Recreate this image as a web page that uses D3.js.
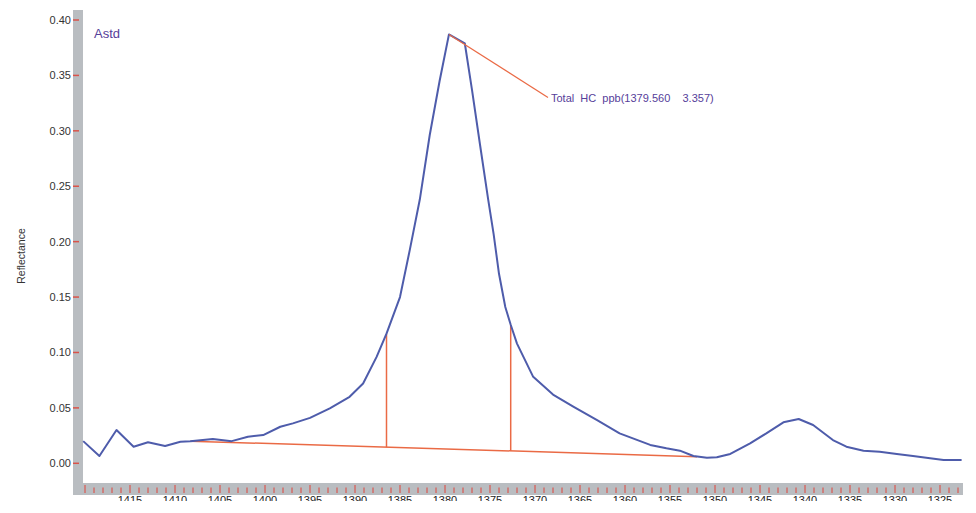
<!DOCTYPE html>
<html><head><meta charset="utf-8">
<script src="https://cdn.jsdelivr.net/npm/d3@7"></script>
<style>body{margin:0;background:#fff}svg{display:block}text{font-family:"Liberation Sans",Arial,sans-serif}</style>
</head><body>
<svg id="c" width="976" height="513"></svg>
<script>
// Spectrum (wavenumber, reflectance)
const wavenumbers = [1420.2,1418.4,1416.5,1414.6,1413.0,1411.1,1409.4,1408.3,1405.8,1403.7,1401.9,1400.2,1398.3,1396.9,1395.0,1392.8,1390.6,1389.1,1387.6,1386.5,1385.0,1383.9,1382.8,1381.7,1380.6,1379.56,1377.8,1377.0,1376.1,1375.2,1374.6,1374.0,1373.3,1372.7,1372.0,1370.2,1368.0,1365.7,1363.1,1360.6,1357.2,1355.4,1353.9,1352.4,1350.9,1349.8,1348.3,1346.1,1344.3,1342.4,1340.7,1339.1,1336.9,1335.4,1333.5,1331.7,1329.8,1328.0,1326.1,1324.6,1322.6];
const reflectance = [0.020,0.0066,0.030,0.015,0.019,0.0156,0.0195,0.020,0.022,0.020,0.024,0.0255,0.033,0.036,0.041,0.0496,0.060,0.072,0.096,0.117,0.150,0.193,0.238,0.296,0.345,0.387,0.379,0.337,0.287,0.238,0.207,0.171,0.141,0.125,0.108,0.078,0.062,0.051,0.039,0.027,0.0166,0.0135,0.0114,0.0066,0.0051,0.0054,0.0084,0.018,0.027,0.037,0.040,0.0346,0.021,0.015,0.0114,0.0105,0.0084,0.0066,0.0045,0.003,0.003];
// Integration baseline and peak limits
const baselineX = [1408.3, 1352.0];
const baselineY = [0.020, 0.006];
const limitX = [1386.5, 1372.7];
const limitTop = [0.117, 0.125];
const peakX = 1379.56, peakY = 0.387;
const yTicks = [0.00,0.05,0.10,0.15,0.20,0.25,0.30,0.35,0.40];
const xMajor = [1415,1410,1405,1400,1395,1390,1385,1380,1375,1370,1365,1360,1355,1350,1345,1340,1335,1330,1325];
const seriesName = "Astd";
const annotation = "Total  HC  ppb(1379.560    3.357)";
const yTitle = "Reflectance";

const svg = d3.select("#c");
const x = d3.scaleLinear().domain([1415,1325]).range([130,940]);
const y = d3.scaleLinear().domain([0,0.40]).range([463.3,20]);
const blue = "#4e5cab", red = "#ea6a45", gray = "#b9bdc1", purple = "#56409a";

// frame bars
svg.append("rect").attr("x",73).attr("y",10).attr("width",10).attr("height",485).attr("fill",gray);
svg.append("rect").attr("x",73).attr("y",483).attr("width",890).attr("height",12).attr("fill",gray);

// y axis ticks
const yg = svg.append("g");
yTicks.forEach(v=>{
  yg.append("line").attr("x1",73).attr("x2",79).attr("y1",y(v)).attr("y2",y(v)).attr("stroke","#d9534a").attr("stroke-width",1.5);
  yg.append("text").attr("x",71).attr("y",y(v)+4).attr("text-anchor","end").attr("font-size",11).attr("fill","#333").text(d3.format(".2f")(v));
});
// x ticks
const xg = svg.append("g");
const minor = d3.range(1323,1421,1);
minor.forEach(v=>{
  const maj = v%5===0;
  xg.append("line").attr("x1",x(v)).attr("x2",x(v)).attr("y1",maj?485:487.5).attr("y2",493).attr("stroke","#e0443a").attr("stroke-width",1);
});
svg.append("clipPath").attr("id","lc").append("rect").attr("x",0).attr("y",494).attr("width",976).attr("height",7);
const lg = svg.append("g").attr("clip-path","url(#lc)");
xMajor.forEach(v=>{
  lg.append("text").attr("x",x(v)).attr("y",504).attr("text-anchor","middle").attr("font-size",11).attr("fill","#222").text(v);
});

// y title
svg.append("text").attr("transform","translate(25,256) rotate(-90)").attr("text-anchor","middle").attr("font-size",10.5).attr("fill","#333").text(yTitle);

// baseline & limits
const bl = d3.scaleLinear().domain(baselineX).range(baselineY);
svg.append("line").attr("x1",x(baselineX[0])).attr("y1",y(baselineY[0])).attr("x2",x(baselineX[1])).attr("y2",y(baselineY[1])).attr("stroke",red).attr("stroke-width",1.5);
limitX.forEach((lx,i)=>{
  svg.append("line").attr("x1",x(lx)).attr("x2",x(lx)).attr("y1",y(bl(lx))).attr("y2",y(limitTop[i])).attr("stroke",red).attr("stroke-width",1.5);
});

// spectrum
const data = wavenumbers.map((w,i)=>[w,reflectance[i]]);
svg.append("path").datum(data).attr("d",d3.line().x(d=>x(d[0])).y(d=>y(d[1]))).attr("fill","none").attr("stroke",blue).attr("stroke-width",2).attr("stroke-linejoin","round");

// annotation
const ax = 548, ay = 97.5;
svg.append("line").attr("x1",x(peakX)).attr("y1",y(peakY)).attr("x2",ax).attr("y2",ay).attr("stroke",red).attr("stroke-width",1.2);
svg.append("text").attr("x",ax+3).attr("y",ay+4).attr("font-size",11).attr("fill",purple).style("white-space","pre").attr("xml:space","preserve").text(annotation);

svg.append("text").attr("x",94).attr("y",38).attr("font-size",13).attr("fill",purple).text(seriesName);
</script>
</body></html>
